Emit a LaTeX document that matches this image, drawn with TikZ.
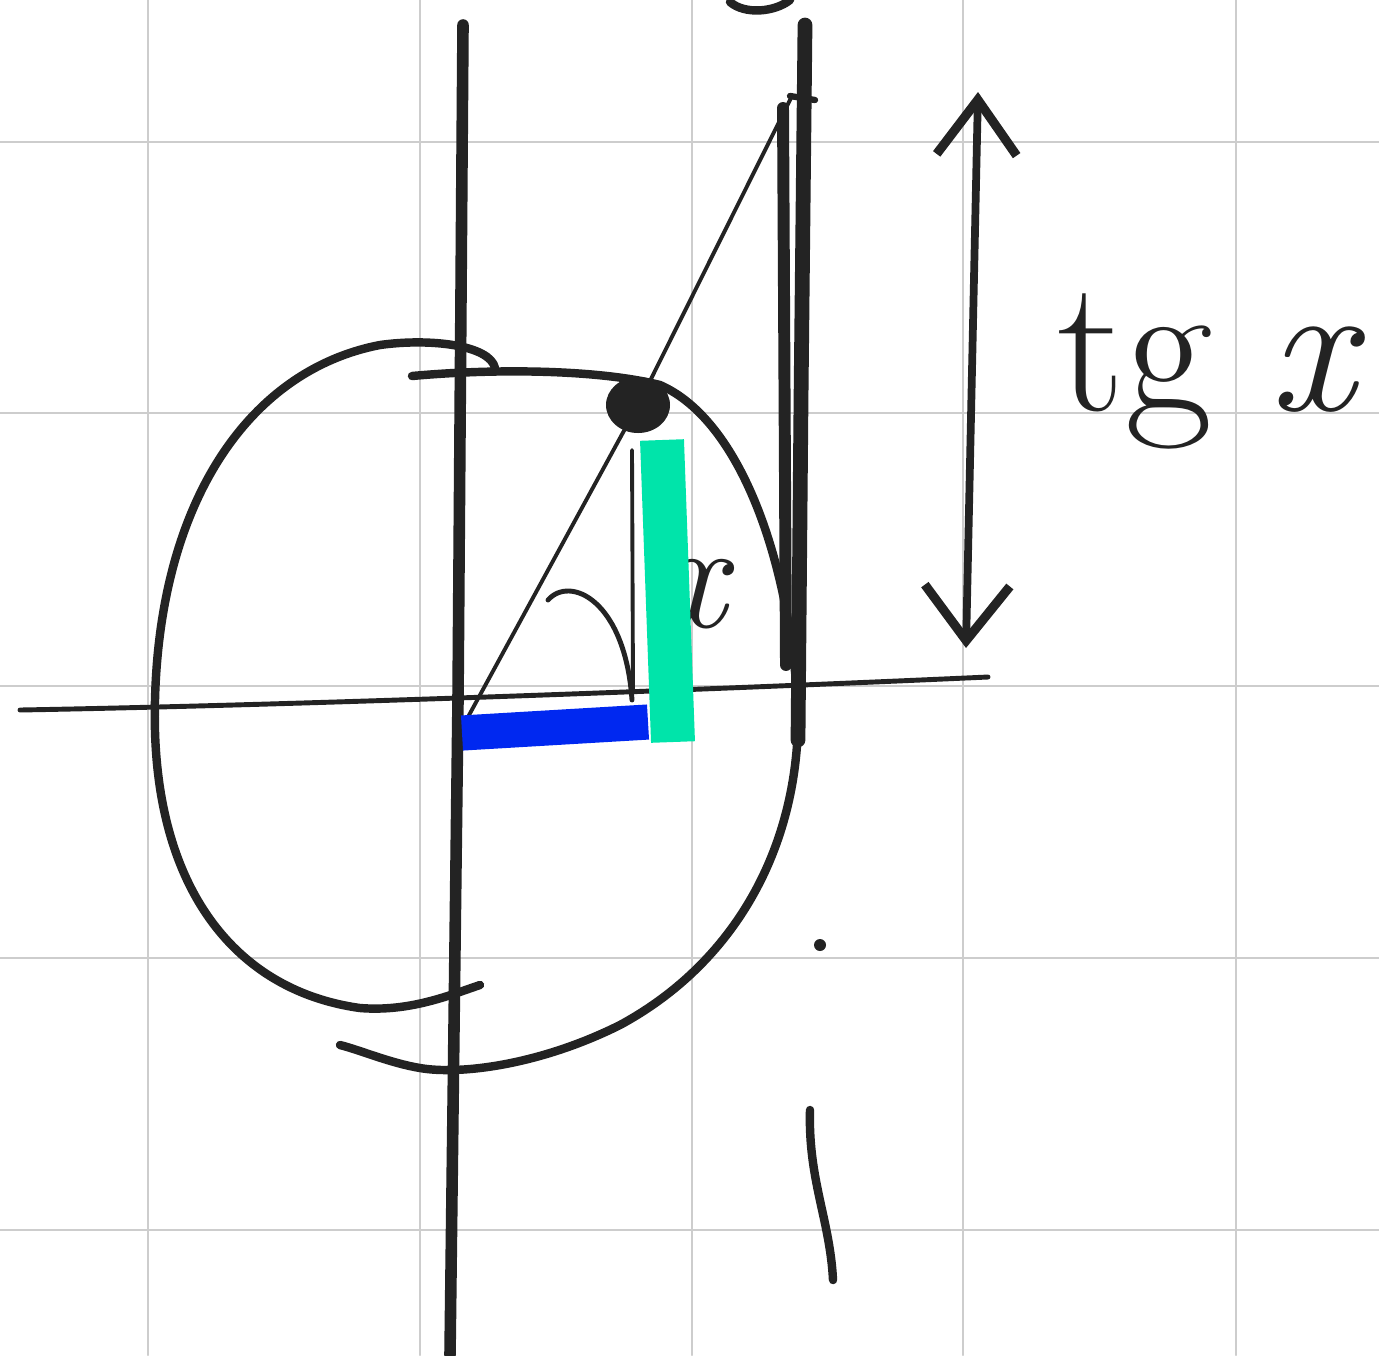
\documentclass[tikz,border=0pt]{standalone}
\definecolor{inkblack}{RGB}{35,35,35}
\definecolor{gridgray}{RGB}{205,205,205}
\definecolor{sinegreen}{RGB}{0,228,170}
\definecolor{cosblue}{RGB}{0,40,240}
\usepackage{tikz}
\usetikzlibrary{arrows.meta}

\begin{document}
\begin{tikzpicture}[x=0.1mm,y=-0.1mm,line cap=round,line join=round,
          grid/.style={draw=gridgray,line width=0.6pt},
          ink/.style={draw=inkblack,line width=2.4pt},
          thinink/.style={draw=inkblack,line width=1.1pt},
          bar/.style={line width=11pt,line cap=butt},
          label/.style={inkblack,inner sep=0pt}]
  \useasboundingbox[fill=white] (0,0) rectangle (1379,1355);
  \foreach \gx in {148,420,692,963,1236}
    \draw[grid] (\gx,0) -- (\gx,1355);
  \foreach \gy in {142,413,686,958,1230}
    \draw[grid] (0,\gy) -- (1379,\gy);

  \coordinate (O) at (462,728);
  \coordinate (P) at (638,405);
  \coordinate (T) at (792,96);
  \coordinate (F) at (648,722);

  % axes
  \draw[ink,line width=3.3pt] (463,25) -- (458,700) -- (450,1355);
  \draw[thinink,line width=1.4pt] (20,710) .. controls (300,705) and (700,690) .. (988,677);

  % circle, drawn in two strokes
  \draw[ink] (495,368) .. controls (490,345) and (430,338) .. (380,345)
    .. controls (250,370) and (160,500) .. (155,700)
    .. controls (150,880) and (230,990) .. (360,1008)
    .. controls (410,1012) and (450,995) .. (480,985);
  \draw[ink] (412,376) .. controls (500,368) and (600,370) .. (660,385)
    .. controls (740,420) and (790,560) .. (798,710)
    .. controls (800,840) and (740,960) .. (620,1025)
    .. controls (540,1065) and (460,1075) .. (420,1068)
    .. controls (390,1063) and (360,1050) .. (340,1045);

  % tangent line
  \draw[ink,line width=4.2pt] (805,25) -- (801,400) -- (798,740);
  \draw[ink,line width=3.4pt] (783,108) -- (786,665);
  \draw[ink,line width=1.8pt] (790,96) -- (815,100);

  % ray through the point
  \draw[thinink] (O) -- (P) -- (T);

  % angle and its label
  \draw[thinink,line width=1.4pt] (548,600) .. controls (570,575) and (625,600) .. (632,700);
  \node[label,font=\fontsize{44}{46}\selectfont] (ang) at (696,594) {\textit{x}};

  % sine and cosine
  \draw[thinink] (632,450) -- (633,690);
  \draw[sinegreen,bar,line width=12.5pt] (662,440) -- (673,742);
  \draw[cosblue,bar,line width=10pt] (462,733) -- (F);

  \fill[inkblack] (P) ellipse [x radius=32, y radius=28];

  % tg x
  \draw[ink,line width=2.2pt,{Straight Barb[length=5.5mm,width=8mm,line width=2.6pt]}-{Straight Barb[length=5.5mm,width=8.5mm,line width=2.6pt]}]
    (978,92) -- (966,648);
  \node[label,font=\fontsize{54}{56}\selectfont,anchor=base east] (tg) at (1366,410) {tg \textit{x}};

  % marks at the edges
  \draw[ink] (730,2) .. controls (745,15) and (775,12) .. (790,0);
  \fill[inkblack] (820,945) circle [radius=6];
  \draw[ink] (810,1110) .. controls (808,1180) and (830,1220) .. (833,1280);
\end{tikzpicture}
\end{document}
